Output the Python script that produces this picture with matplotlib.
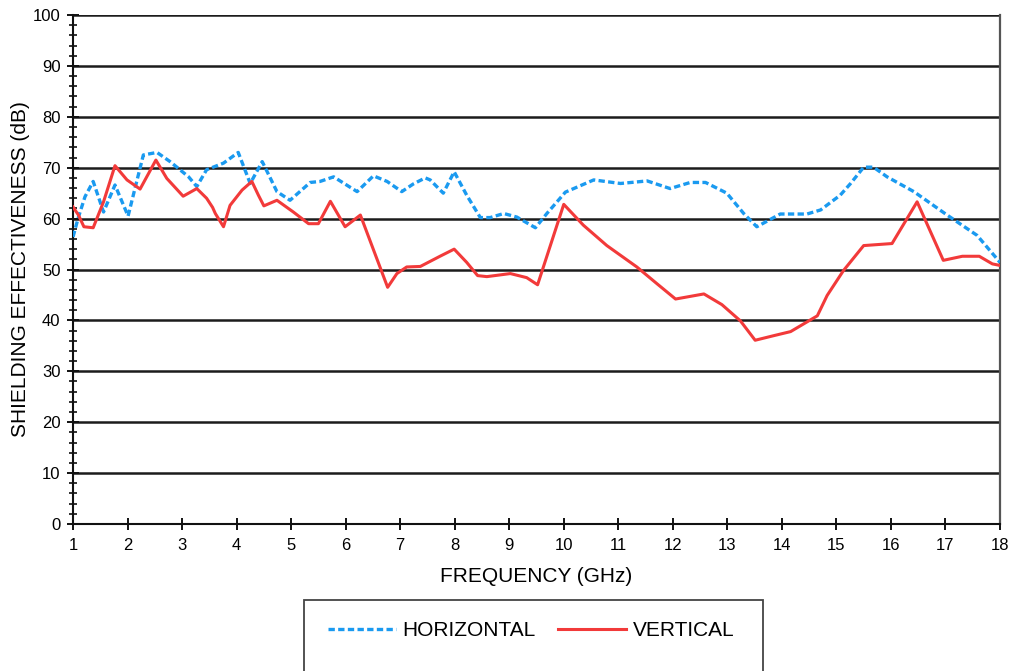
import matplotlib
matplotlib.use("Agg")
import matplotlib.pyplot as plt
from matplotlib.patches import Rectangle
from matplotlib.ticker import MultipleLocator

plt.rcParams['font.family'] = ['Liberation Sans', 'DejaVu Sans']

# Shielding effectiveness vs frequency
freq_h = [1.0, 1.10, 1.22, 1.37, 1.56, 1.77, 2.01, 2.29, 2.54, 2.78,
          3.12, 3.27, 3.45, 3.76, 4.03, 4.25, 4.47, 4.74, 4.98, 5.35,
          5.53, 5.78, 6.21, 6.51, 6.76, 7.03, 7.24, 7.46, 7.55, 7.79,
          7.99, 8.22, 8.47, 8.65, 8.90, 9.14, 9.48, 9.69, 10.03, 10.55,
          11.04, 11.53, 11.95, 12.32, 12.60, 12.99, 13.30, 13.54, 13.97, 14.46,
          14.71, 15.07, 15.26, 15.50, 15.68, 15.93, 16.42, 17.03, 17.58, 18.0]
se_h = [56.4, 60.3, 64.3, 67.3, 61.3, 66.6, 60.5, 72.5, 73.0, 71.2,
        68.2, 66.3, 69.6, 70.9, 73.0, 66.9, 71.2, 65.3, 63.6, 67.1,
        67.3, 68.2, 65.3, 68.4, 67.3, 65.3, 66.8, 68.0, 67.6, 65.0,
        69.2, 64.6, 60.2, 60.2, 61.0, 60.3, 58.2, 61.0, 65.2, 67.6,
        66.9, 67.4, 65.9, 67.1, 67.1, 65.0, 61.0, 58.4, 60.9, 60.9,
        61.7, 64.6, 66.9, 70.1, 70.1, 68.2, 65.3, 60.7, 56.7, 51.4]

freq_v = [1.0, 1.10, 1.20, 1.37, 1.56, 1.77, 1.99, 2.23, 2.52, 2.72,
          3.02, 3.27, 3.45, 3.56, 3.61, 3.76, 3.88, 4.10, 4.28, 4.40,
          4.50, 4.74, 5.04, 5.32, 5.50, 5.72, 5.99, 6.27, 6.77, 6.94,
          7.12, 7.37, 7.73, 7.99, 8.22, 8.42, 8.59, 9.02, 9.32, 9.52,
          10.0, 10.36, 10.79, 11.34, 11.71, 12.05, 12.57, 12.90, 13.24, 13.51,
          13.85, 14.16, 14.65, 14.83, 15.13, 15.50, 16.02, 16.48, 16.96, 17.31,
          17.62, 17.86, 18.0]
se_v = [62.3, 60.7, 58.4, 58.2, 63.3, 70.4, 67.6, 65.8, 71.5, 67.9,
        64.4, 65.9, 64.0, 62.2, 61.0, 58.4, 62.6, 65.6, 67.3, 64.6,
        62.5, 63.6, 61.3, 59.0, 59.0, 63.4, 58.4, 60.7, 46.5, 49.2,
        50.5, 50.6, 52.6, 54.0, 51.4, 48.8, 48.6, 49.2, 48.4, 47.0,
        62.8, 58.7, 54.7, 50.5, 47.2, 44.2, 45.2, 43.1, 39.9, 36.1,
        37.0, 37.8, 40.9, 44.9, 49.8, 54.7, 55.1, 63.3, 51.8, 52.6,
        52.6, 51.1, 50.8]

x_ticks = list(range(1, 19))
y_ticks = list(range(0, 101, 10))

fig = plt.figure(figsize=(10.12, 6.71), dpi=100)
ax = fig.add_axes([73 / 1012, 1 - 524 / 671, 927 / 1012, 509 / 671])

ax.set_xlim(1, 18)
ax.set_ylim(0, 100)
ax.set_xticks(x_ticks)
ax.set_yticks(y_ticks)
ax.yaxis.set_minor_locator(MultipleLocator(2))

# horizontal gridlines
for y in y_ticks[1:]:
    ax.axhline(y, color='#1c1c1c', lw=1.8, zorder=1)

blue, = ax.plot(freq_h, se_h, color='#1a9af0', lw=2.4, ls=(0, (1.9, 1.0)),
                zorder=3, label='HORIZONTAL')
red, = ax.plot(freq_v, se_v, color='#f23a3a', lw=2.2, zorder=4,
               label='VERTICAL')

for side in ('left', 'bottom'):
    ax.spines[side].set_color('#111111')
    ax.spines[side].set_linewidth(1.5)
ax.spines['top'].set_visible(False)
ax.spines['right'].set_color('#555555')
ax.spines['right'].set_linewidth(1.6)

ax.tick_params(axis='both', which='major', direction='inout', length=8,
               width=1.4, color='#111111', labelsize=12, pad=5)
ax.tick_params(axis='y', which='minor', direction='inout', length=6,
               width=1.2, color='#111111')
ax.tick_params(axis='x', pad=6)

ax.set_xlabel('FREQUENCY (GHz)', fontsize=15, labelpad=10)
ax.set_ylabel('SHIELDING EFFECTIVENESS (dB)', fontsize=15, labelpad=2)

# legend box, running off the lower edge
fig.patches.append(Rectangle((304 / 1012, -0.05), 459 / 1012, 0.05 + 71 / 671,
                             transform=fig.transFigure, fill=False,
                             edgecolor='#444444', lw=1.3))
fig.legend(handles=[blue, red], loc='center', ncol=2, frameon=False,
           bbox_to_anchor=(531 / 1012, 1 - 631 / 671), fontsize=15,
           handlelength=3.3, handletextpad=0.3, columnspacing=1.05)

fig.savefig('out.png', dpi=100)
